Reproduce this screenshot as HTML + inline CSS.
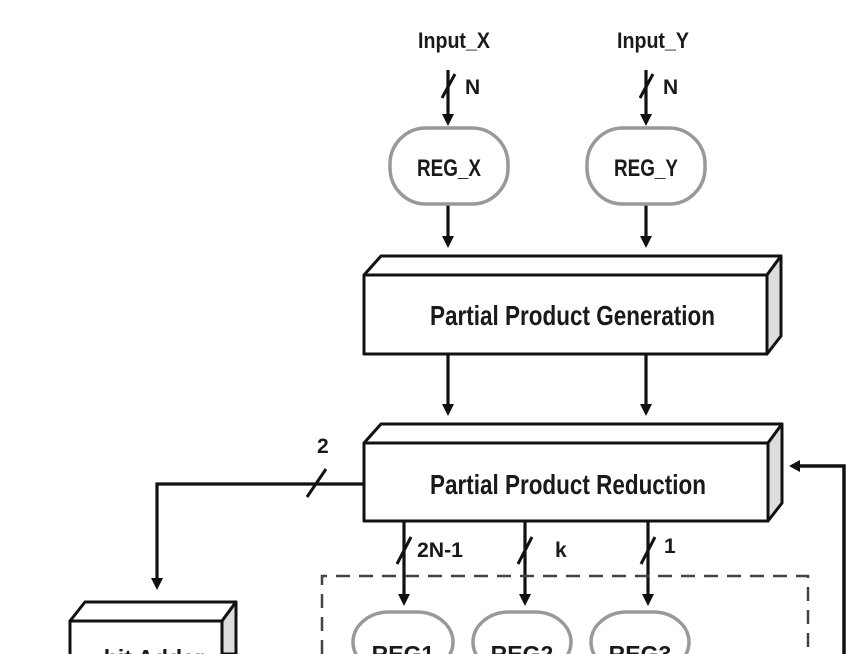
<!DOCTYPE html>
<html><head><meta charset="utf-8"><style>
html,body{margin:0;padding:0;background:#fff;width:854px;height:654px;overflow:hidden}
svg{display:block}
text{font-family:"Liberation Sans",sans-serif;font-weight:bold;fill:#1a1a1a}
</style></head><body>
<svg width="854" height="654" viewBox="0 0 854 654" xmlns="http://www.w3.org/2000/svg" overflow="hidden">
<g stroke="#111" stroke-width="3.2" fill="none">
<line x1="448" y1="70" x2="448" y2="118"/>
<line x1="646" y1="70" x2="646" y2="118"/>
<line x1="442" y1="98" x2="455" y2="74" stroke-width="3"/>
<line x1="640" y1="98" x2="653" y2="74" stroke-width="3"/>
<line x1="448" y1="204" x2="448" y2="240"/>
<line x1="646" y1="204" x2="646" y2="240"/>
<line x1="448" y1="355" x2="448" y2="408"/>
<line x1="646" y1="355" x2="646" y2="408"/>
<line x1="404" y1="522" x2="404" y2="596"/>
<line x1="525" y1="522" x2="525" y2="596"/>
<line x1="648" y1="522" x2="648" y2="596"/>
<line x1="397" y1="564" x2="411" y2="537" stroke-width="3"/>
<line x1="518" y1="564" x2="532" y2="537" stroke-width="3"/>
<line x1="641" y1="564" x2="655" y2="537" stroke-width="3"/>
<polyline points="364,484 157,484 157,580"/>
<line x1="307" y1="497" x2="326" y2="469" stroke-width="3"/>
<polyline points="844,654 844,466 798,466" stroke-width="3.5"/>
</g>
<g fill="#111">
<path d="M442,236 L454,236 L448,248 z"/>
<path d="M640,236 L652,236 L646,248 z"/>
<path d="M442,114 L454,114 L448,126 z"/>
<path d="M640,114 L652,114 L646,126 z"/>
<path d="M442,404 L454,404 L448,416 z"/>
<path d="M640,404 L652,404 L646,416 z"/>
<path d="M398,594 L410,594 L404,606 z"/>
<path d="M519,594 L531,594 L525,606 z"/>
<path d="M642,594 L654,594 L648,606 z"/>
<path d="M151,578 L163,578 L157,590 z"/>
<path d="M800,460 L800,472 L789,466 z"/>
</g>
<g stroke="#999" stroke-width="3.5" fill="#fff">
<rect x="390" y="128" width="118" height="76" rx="36"/>
<rect x="587" y="128" width="118" height="76" rx="36"/>
<rect x="353" y="612" width="100" height="60" rx="36"/>
<rect x="473" y="612" width="98" height="60" rx="36"/>
<rect x="591" y="612" width="98" height="60" rx="36"/>
</g>
<g stroke="#444" stroke-width="2.5" fill="none" stroke-dasharray="14,9">
<polyline points="322,654 322,576 808,576 808,654"/>
</g>
<g stroke="#111" stroke-width="3" stroke-linejoin="round">
<polygon points="364,275 381,256 781,256 767,275" fill="#fff"/>
<polygon points="767,275 781,256 781,336 767,354" fill="#ddd"/>
<rect x="364" y="275" width="403" height="79" fill="#fff"/>
<polygon points="364,443 381,424 782,424 768,443" fill="#fff"/>
<polygon points="768,443 782,424 782,503 768,521" fill="#ddd"/>
<rect x="364" y="443" width="404" height="78" fill="#fff"/>
<polygon points="70,621 85,602 236,602 222,621" fill="#fff"/>
<polygon points="222,621 236,602 236,654 222,654" fill="#ddd"/>
<polyline points="70,654 70,621 222,621 222,654" fill="#fff"/>
</g>
<text x="418" y="48" font-size="22" textLength="72" lengthAdjust="spacingAndGlyphs">Input_X</text>
<text x="617" y="48" font-size="22" textLength="72" lengthAdjust="spacingAndGlyphs">Input_Y</text>
<text x="465" y="94" font-size="21">N</text>
<text x="663" y="94" font-size="21">N</text>
<text x="449" y="176" font-size="24" text-anchor="middle" textLength="64" lengthAdjust="spacingAndGlyphs">REG_X</text>
<text x="646" y="176" font-size="24" text-anchor="middle" textLength="64" lengthAdjust="spacingAndGlyphs">REG_Y</text>
<text x="430" y="325" font-size="28" textLength="285" lengthAdjust="spacingAndGlyphs">Partial Product Generation</text>
<text x="430" y="494" font-size="28" textLength="276" lengthAdjust="spacingAndGlyphs">Partial Product Reduction</text>
<text x="317" y="453" font-size="21">2</text>
<text x="417" y="557" font-size="21" textLength="46" lengthAdjust="spacingAndGlyphs">2N-1</text>
<text x="555" y="557" font-size="21">k</text>
<text x="664" y="553" font-size="21">1</text>
<text x="403" y="662" font-size="23" text-anchor="middle">REG1</text>
<text x="522" y="662" font-size="23" text-anchor="middle">REG2</text>
<text x="640" y="662" font-size="23" text-anchor="middle">REG3</text>
<text x="150" y="666" font-size="23" text-anchor="middle">-bit Adder</text>
</svg>
</body></html>
